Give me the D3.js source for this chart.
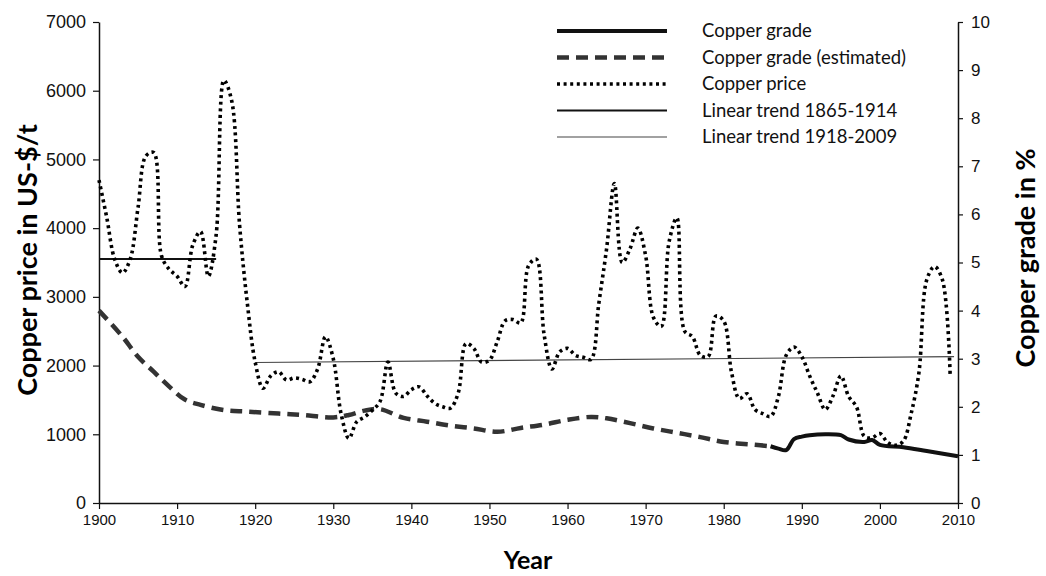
<!DOCTYPE html>
<html><head><meta charset="utf-8">
<script src="https://cdn.jsdelivr.net/npm/d3@7"></script>
<style>
body{margin:0;background:#fff;}
svg{display:block;font-family:Lato,"Open Sans",sans-serif;}
</style></head>
<body><svg id="c" width="1046" height="576"></svg>
<script>
// ---- data ----
const priceYears = d3.range(1900, 2010);
const priceValues = [4700,4150,3550,3350,3550,4300,5050,5100,3600,3400,
 3300,3150,3750,3950,3300,3900,6150,5850,4050,2900,
 2050,1670,1850,1910,1790,1820,1800,1765,1950,2420,
 2100,1300,940,1180,1250,1350,1480,2050,1600,1550,
 1650,1690,1560,1450,1400,1380,1600,2320,2250,2050,
 2080,2350,2650,2670,2620,3450,3550,2450,1950,2200,
 2250,2150,2120,2090,2900,3700,4650,3500,3700,4000,
 3600,2700,2570,3800,4150,2500,2420,2150,2130,2720,
 2650,1900,1520,1590,1360,1300,1260,1550,2150,2270,
 2130,1850,1600,1360,1560,1850,1550,1400,970,950,
 1010,880,840,900,1300,1900,3250,3440,3250,1850];
const gradeEstYears = [1900,1903,1905,1907,1909,1911,1913,1916,1919,1923,1926,1930,1932,1934,1936,1939,1942,1945,1948,1951,1954,1957,1960,1963,1965,1968,1971,1974,1977,1980,1984,1986];
const gradeEstValues = [4.0,3.46,3.04,2.73,2.42,2.15,2.04,1.93,1.90,1.86,1.83,1.78,1.83,1.92,1.95,1.77,1.69,1.61,1.55,1.48,1.56,1.63,1.73,1.79,1.76,1.66,1.55,1.46,1.37,1.27,1.21,1.18];
const gradeYears = [1986,1987,1988,1989,1990,1991,1993,1995,1996,1998,1999,2000,2003,2006,2010];
const gradeValues = [1.18,1.13,1.10,1.33,1.38,1.41,1.43,1.41,1.32,1.27,1.31,1.21,1.16,1.08,0.97];
const trend1Years = [1900, 1915];
const trend1Values = [3550, 3550];
const trend2Years = [1920, 2009.5];
const trend2Values = [2045, 2130];
const xTicks = d3.range(1900, 2011, 10);
const priceTicks = d3.range(0, 7001, 1000);
const gradeTicks = d3.range(0, 11, 1);
const legendLabels = ["Copper grade","Copper grade (estimated)","Copper price","Linear trend 1865-1914","Linear trend 1918-2009"];

// ---- chart ----
const svg = d3.select("#c");
const x = d3.scaleLinear().domain([1900, 2010]).range([99, 958]);
const yL = d3.scaleLinear().domain([0, 7000]).range([503, 22]);
const yR = d3.scaleLinear().domain([0, 10]).range([503, 22]);

const styles = {
  grade: {w:4, dash:null, color:"#111"},
  est: {w:4.5, dash:"12,7", color:"#333"},
  price: {w:3.6, dash:"3,3.6", color:"#000"},
  t1: {w:2, dash:null, color:"#111"},
  t2: {w:1.1, dash:null, color:"#444"}
};

function drawLine(xs, ys, yScale, st, curve) {
  const pts = xs.map((d,i)=>[d, ys[i]]);
  const gen = d3.line().x(d=>x(d[0])).y(d=>yScale(d[1])).curve(curve || d3.curveLinear);
  const p = svg.append("path").datum(pts).attr("d", gen)
    .attr("fill","none").attr("stroke",st.color).attr("stroke-width",st.w)
    .attr("stroke-linejoin","round");
  if (st.dash) p.attr("stroke-dasharray", st.dash);
  return p;
}

// axes
const axL = svg.append("g").attr("transform","translate(99,0)")
  .call(d3.axisLeft(yL).tickValues(priceTicks).tickFormat(d3.format("d")).tickSize(6).tickSizeOuter(0).tickPadding(7));
axL.selectAll("text").style("font-size","18px").attr("fill","#111");
const axR = svg.append("g").attr("transform","translate(958,0)")
  .call(d3.axisRight(yR).tickValues(gradeTicks).tickSize(5).tickSizeOuter(0).tickPadding(8));
axR.selectAll("text").style("font-size","17px").attr("fill","#111");
const axB = svg.append("g").attr("transform","translate(0,503)")
  .call(d3.axisBottom(x).tickValues(xTicks).tickFormat(d3.format("d")).tickSize(6).tickSizeOuter(0).tickPadding(5));
axB.selectAll("text").style("font-size","15px").attr("fill","#111");
svg.selectAll(".domain").attr("stroke","#111").attr("stroke-width",1.5);
svg.selectAll(".tick line").attr("stroke","#111").attr("stroke-width",1.2);

// trend lines
drawLine(trend1Years, trend1Values, yL, styles.t1);
drawLine(trend2Years, trend2Values, yL, styles.t2);
// grade
drawLine(gradeEstYears, gradeEstValues, yR, styles.est, d3.curveCatmullRom);
drawLine(gradeYears, gradeValues, yR, styles.grade, d3.curveCatmullRom);
// price
drawLine(priceYears, priceValues, yL, styles.price, d3.curveCatmullRom);

// titles
svg.append("text").attr("transform","translate(37,260) rotate(-90)")
  .attr("text-anchor","middle").style("font-size","27px").style("font-weight","bold")
  .text("Copper price in US-$/t");
svg.append("text").attr("transform","translate(1035,258) rotate(-90)")
  .attr("text-anchor","middle").style("font-size","27px").style("font-weight","bold")
  .text("Copper grade in %");
svg.append("text").attr("x",528).attr("y",569)
  .attr("text-anchor","middle").style("font-size","25px").style("font-weight","bold")
  .text("Year");

// legend
const legStyles = [styles.grade, styles.est, styles.price, styles.t1, styles.t2];
const leg = svg.append("g");
legendLabels.forEach((lab,i)=>{
  const yy = 31 + i*26.5;
  const st = legStyles[i];
  const l = leg.append("line").attr("x1",557).attr("x2",667).attr("y1",yy).attr("y2",yy)
    .attr("stroke",st.color).attr("stroke-width",st.w);
  if (st.dash) l.attr("stroke-dasharray", st.dash);
  leg.append("text").attr("x",702).attr("y",yy).attr("dy","0.35em")
    .style("font-size","18.5px").attr("fill","#111").text(lab);
});
</script></body></html>
